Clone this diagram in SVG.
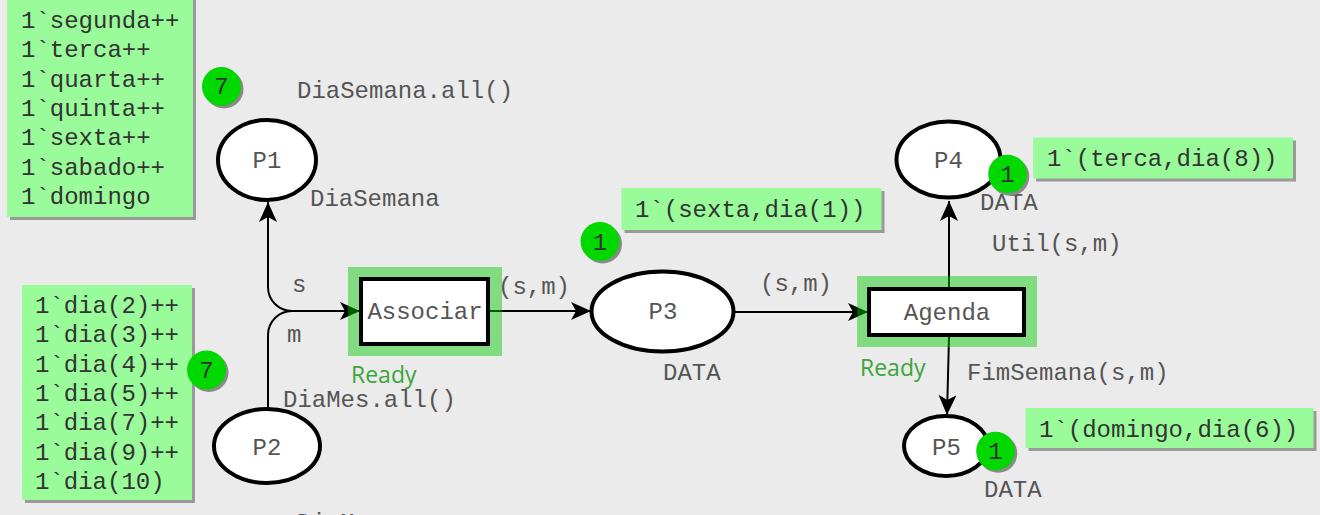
<svg xmlns="http://www.w3.org/2000/svg" width="1320" height="515" viewBox="0 0 1320 515">
<defs>
<style>
.bg{fill:#ebebeb}
.mono{font-family:"Liberation Mono","Courier New",monospace;font-size:24px}
.insc{fill:#555555}
.tok{fill:#333333}
.tbox{fill:#99fb99}
.tshadow{fill:#9a9a9a}
.cnt{fill:#00d800}
.cshadow{fill:#8a8a8a}
.place{fill:#ffffff;stroke:#000;stroke-width:4}
.trans{fill:#ffffff;stroke:#000;stroke-width:4}
.ring{fill:rgb(0,200,0);fill-opacity:0.45;fill-rule:evenodd}
.ready{font-family:"Open Sans","Noto Sans",sans-serif;font-size:23px;fill:#3aa53a}
.arc{fill:none;stroke:#000;stroke-width:2;marker-end:url(#ah)}
</style>
<marker id="ah" markerUnits="userSpaceOnUse" markerWidth="22" markerHeight="20" refX="20" refY="9" orient="auto">
<path d="M20,9 L0,0 L5,9 L0,18 Z" fill="#000"/>
</marker>
</defs>
<rect class="bg" x="0" y="0" width="1320" height="515"/>

<g id="connectors">
<path class="arc" d="M361,311 H292 A24,24 0 0 1 268,287 V202"/>
<path class="arc" d="M268,408 V335 A24,24 0 0 1 292,311 H360"/>
<path class="arc" d="M490,311 H591"/>
<path class="arc" d="M735,312 H868"/>
<path class="arc" d="M949,287 V201"/>
<path class="arc" d="M949,337 L947,415"/>
<text class="mono insc" x="292" y="292">s</text>
<text class="mono insc" x="287" y="342">m</text>
<text class="mono insc" x="498" y="294">(s,m)</text>
<text class="mono insc" x="760" y="291">(s,m)</text>
<text class="mono insc" x="992" y="251">Util(s,m)</text>
<text class="mono insc" x="967" y="380">FimSemana(s,m)</text>
</g>

<g id="P1">
<ellipse class="place" cx="267" cy="160" rx="49" ry="40"/>
<text class="mono insc" x="267" y="168" text-anchor="middle">P1</text>
<text class="mono insc" x="297" y="98">DiaSemana.all()</text>
<text class="mono insc" x="310" y="206">DiaSemana</text>
<rect class="tshadow" x="10" y="-3" width="186" height="223"/>
<rect class="tbox" x="7" y="-6" width="186" height="223"/>
<text class="mono tok" x="21" y="28">1`segunda++</text>
<text class="mono tok" x="21" y="57.3">1`terca++</text>
<text class="mono tok" x="21" y="86.6">1`quarta++</text>
<text class="mono tok" x="21" y="116">1`quinta++</text>
<text class="mono tok" x="21" y="145.3">1`sexta++</text>
<text class="mono tok" x="21" y="174.6">1`sabado++</text>
<text class="mono tok" x="21" y="204">1`domingo</text>
<circle class="cshadow" cx="224" cy="89" r="19.5"/>
<circle class="cnt" cx="221.5" cy="86.5" r="19.5"/>
<text class="mono tok" x="221.5" y="94" text-anchor="middle">7</text>
</g>

<g id="P2">
<ellipse class="place" cx="267" cy="446" rx="53" ry="37"/>
<text class="mono insc" x="267" y="455" text-anchor="middle">P2</text>
<text class="mono insc" x="283" y="407">DiaMes.all()</text>
<text class="mono insc" x="297" y="530">DiaMes</text>
<rect class="tshadow" x="25" y="288" width="170" height="215"/>
<rect class="tbox" x="22" y="285" width="170" height="215"/>
<text class="mono tok" x="35" y="313">1`dia(2)++</text>
<text class="mono tok" x="35" y="342.3">1`dia(3)++</text>
<text class="mono tok" x="35" y="371.6">1`dia(4)++</text>
<text class="mono tok" x="35" y="401">1`dia(5)++</text>
<text class="mono tok" x="35" y="430.3">1`dia(7)++</text>
<text class="mono tok" x="35" y="459.6">1`dia(9)++</text>
<text class="mono tok" x="35" y="489">1`dia(10)</text>
<circle class="cshadow" cx="209" cy="372.5" r="19.5"/>
<circle class="cnt" cx="206.5" cy="370" r="19.5"/>
<text class="mono tok" x="206.5" y="378" text-anchor="middle">7</text>
</g>

<g id="Associar">
<path class="ring" d="M348,267 H502 V356 H348 Z M359,277 V346 H490 V277 Z"/>
<rect class="trans" x="361" y="279" width="127" height="65"/>
<text class="mono insc" x="425" y="319" text-anchor="middle">Associar</text>
<text class="ready" x="351" y="383">Ready</text>
</g>

<g id="P3">
<ellipse class="place" cx="662.5" cy="311.5" rx="71" ry="40"/>
<text class="mono insc" x="663" y="319" text-anchor="middle">P3</text>
<text class="mono insc" x="663" y="380">DATA</text>
<rect class="tshadow" x="624.5" y="191" width="260" height="42"/>
<rect class="tbox" x="621.5" y="188" width="260" height="42"/>
<text class="mono tok" x="635" y="217">1`(sexta,dia(1))</text>
<circle class="cshadow" cx="602.5" cy="244" r="19.5"/>
<circle class="cnt" cx="600" cy="241.5" r="19.5"/>
<text class="mono tok" x="600" y="249.5" text-anchor="middle">1</text>
</g>

<g id="Agenda">
<path class="ring" d="M857,276 H1037 V347 H857 Z M867,287 V337 H1026 V287 Z"/>
<rect class="trans" x="869" y="289" width="155" height="46"/>
<text class="mono insc" x="947" y="320" text-anchor="middle">Agenda</text>
<text class="ready" x="860" y="376">Ready</text>
</g>

<g id="P4">
<ellipse class="place" cx="948.5" cy="159.5" rx="52" ry="38"/>
<text class="mono insc" x="948.5" y="168" text-anchor="middle">P4</text>
<text class="mono insc" x="980" y="210">DATA</text>
<rect class="tshadow" x="1036" y="140.5" width="260" height="41"/>
<rect class="tbox" x="1033" y="137.5" width="260" height="41"/>
<text class="mono tok" x="1047" y="166">1`(terca,dia(8))</text>
<circle class="cshadow" cx="1010" cy="176.5" r="19.3"/>
<circle class="cnt" cx="1007.5" cy="174" r="19.3"/>
<text class="mono tok" x="1007.5" y="182" text-anchor="middle">1</text>
</g>

<g id="P5">
<ellipse class="place" cx="946" cy="446" rx="42" ry="30"/>
<text class="mono insc" x="946.5" y="455" text-anchor="middle">P5</text>
<text class="mono insc" x="984" y="497">DATA</text>
<rect class="tshadow" x="1028.5" y="411" width="288" height="40"/>
<rect class="tbox" x="1025.5" y="408" width="288" height="40"/>
<text class="mono tok" x="1039" y="437">1`(domingo,dia(6))</text>
<circle class="cshadow" cx="998" cy="453.5" r="19.3"/>
<circle class="cnt" cx="995.5" cy="451" r="19.3"/>
<text class="mono tok" x="995.5" y="459" text-anchor="middle">1</text>
</g>
</svg>
